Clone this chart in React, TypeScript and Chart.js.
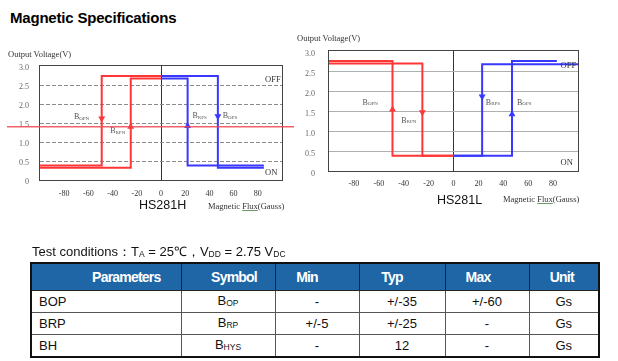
import React, { useEffect, useRef } from 'react';
import { Chart, registerables } from 'chart.js';

Chart.register(...registerables);

type Pt = { x: number; y: number };
type Arrow = { x: number; y: number; dir: 'up' | 'down' };
type SubLabel = { x: number; y: number; main: string; sub: string };
type StateLabel = { x: number; y: number; text: string };

// ---- shared axis ticks ----
const fluxTicks = [-80, -60, -40, -20, 0, 20, 40, 60, 80];
const voltTicks = [0, 0.5, 1, 1.5, 2, 2.5, 3];

// ---- HS281H (flux in Gauss, output in V) ----
const hRedOuter: Pt[] = [{ x: -100, y: 0.38 }, { x: -49, y: 0.38 }, { x: -49, y: 2.74 }, { x: 0, y: 2.74 }];
const hRedInner: Pt[] = [{ x: -100, y: 0.32 }, { x: -25, y: 0.32 }, { x: -25, y: 2.67 }, { x: 0, y: 2.67 }];
const hBlueOuter: Pt[] = [{ x: 0, y: 2.74 }, { x: 47, y: 2.74 }, { x: 47, y: 0.32 }, { x: 85, y: 0.32 }];
const hBlueInner: Pt[] = [{ x: 0, y: 2.67 }, { x: 22, y: 2.67 }, { x: 22, y: 0.38 }, { x: 85, y: 0.38 }];
const hRedArrows: Arrow[] = [{ x: -49, y: 1.62, dir: 'down' }, { x: -25, y: 1.4, dir: 'up' }];
const hBlueArrows: Arrow[] = [{ x: 22, y: 1.42, dir: 'up' }, { x: 47, y: 1.68, dir: 'down' }];
const hLabels: SubLabel[] = [
  { x: -72, y: 1.66, main: 'B', sub: 'OPN' },
  { x: -42, y: 1.29, main: 'B', sub: 'RPN' },
  { x: 26, y: 1.68, main: 'B', sub: 'RPS' },
  { x: 51, y: 1.68, main: 'B', sub: 'OPS' },
];
const hStates: StateLabel[] = [{ x: 86, y: 2.63, text: 'OFF' }, { x: 86, y: 0.18, text: 'ON' }];
const hMarkerVolt = 1.4;

// ---- HS281L ----
const lRedOuter: Pt[] = [{ x: -100, y: 2.75 }, { x: -49, y: 2.75 }, { x: -49, y: 0.38 }, { x: 0, y: 0.38 }];
const lRedInner: Pt[] = [{ x: -100, y: 2.69 }, { x: -25, y: 2.69 }, { x: -25, y: 0.38 }, { x: 0, y: 0.38 }];
const lBlueOuter: Pt[] = [{ x: 0, y: 0.38 }, { x: 47, y: 0.38 }, { x: 47, y: 2.75 }, { x: 83, y: 2.75 }];
const lBlueInner: Pt[] = [{ x: 0, y: 0.38 }, { x: 23, y: 0.38 }, { x: 23, y: 2.67 }, { x: 100, y: 2.67 }];
const lRedArrows: Arrow[] = [{ x: -49, y: 1.54, dir: 'up' }, { x: -25, y: 1.47, dir: 'down' }];
const lBlueArrows: Arrow[] = [{ x: 23, y: 1.86, dir: 'down' }, { x: 47, y: 1.42, dir: 'up' }];
const lLabels: SubLabel[] = [
  { x: -73, y: 1.71, main: 'B', sub: 'OPN' },
  { x: -42, y: 1.26, main: 'B', sub: 'RPN' },
  { x: 26, y: 1.71, main: 'B', sub: 'RPS' },
  { x: 51, y: 1.71, main: 'B', sub: 'OPS' },
];
const lStates: StateLabel[] = [{ x: 86, y: 2.63, text: 'OFF' }, { x: 86, y: 0.2, text: 'ON' }];

// ---- table ----
const tableHeaders = ['Parameters', 'Symbol', 'Min', 'Typ', 'Max', 'Unit'];
const rowParams = ['BOP', 'BRP', 'BH'];
const rowSymbolSubs = ['OP', 'RP', 'HYS'];
const rowMin = ['-', '+/-5', '-'];
const rowTyp = ['+/-35', '+/-25', '12'];
const rowMax = ['+/-60', '-', '-'];
const rowUnit = ['Gs', 'Gs', 'Gs'];

const SERIF = '"Liberation Serif", "Times New Roman", Times, serif';
const SANS = '"Liberation Sans", Arial, Helvetica, sans-serif';
const RED = '#ff3636';
const BLUE = '#3838ff';
const HEADER_BG = '#1f66a6';

interface HysProps {
  left: number;
  top: number;
  width: number;
  height: number;
  pad: { top: number; right: number; bottom: number };
  yAxisWidth: number;
  xAxisHeight: number;
  yTickPad: number;
  xTickPad: number;
  yLabelOffset: number;
  gridColor: string;
  gridDash: number[];
  redOuter: Pt[];
  redInner: Pt[];
  blueOuter: Pt[];
  blueInner: Pt[];
  redArrows: Arrow[];
  blueArrows: Arrow[];
  labels: SubLabel[];
  states: StateLabel[];
  marker?: { volt: number; fromX: number; toX: number };
}

function HysChart(p: HysProps) {
  const ref = useRef<HTMLCanvasElement>(null);
  useEffect(() => {
    const canvas = ref.current;
    if (!canvas) return;
    const lineDs = (data: Pt[], color: string) => ({
      data,
      showLine: true,
      borderColor: color,
      backgroundColor: color,
      borderWidth: 2,
      pointRadius: 0,
      pointHoverRadius: 0,
      fill: false,
      tension: 0,
      borderJoinStyle: 'miter',
    });
    const arrowDs = (data: Arrow[], color: string) => ({
      data,
      showLine: false,
      pointStyle: 'triangle',
      pointRadius: 4,
      pointHoverRadius: 4,
      rotation: (c: any) => (c.raw && c.raw.dir === 'down' ? 180 : 0),
      backgroundColor: color,
      borderColor: color,
      borderWidth: 0,
    });
    const overlay = {
      id: 'hysOverlay',
      beforeDatasetsDraw(chart: any) {
        const { ctx, chartArea: a } = chart;
        ctx.save();
        ctx.strokeStyle = '#444';
        ctx.lineWidth = 1;
        const x0 = Math.round(a.left) - 0.5;
        const y0 = Math.round(a.top) - 0.5;
        const x1 = Math.round(a.right) + 0.5;
        const y1 = Math.round(a.bottom) + 0.5;
        ctx.strokeRect(x0, y0, x1 - x0, y1 - y0);
        ctx.restore();
      },
      afterDatasetsDraw(chart: any) {
        const { ctx } = chart;
        const xs = chart.scales.x;
        const ys = chart.scales.y;
        ctx.save();
        ctx.textAlign = 'left';
        ctx.textBaseline = 'middle';
        ctx.fillStyle = '#555';
        for (const l of p.labels) {
          const x = xs.getPixelForValue(l.x);
          const y = ys.getPixelForValue(l.y);
          ctx.font = `8px ${SERIF}`;
          ctx.fillText(l.main, x, y);
          const w = ctx.measureText(l.main).width;
          ctx.font = `5px ${SERIF}`;
          ctx.fillText(l.sub, x + w, y + 1.5);
        }
        ctx.fillStyle = '#333';
        ctx.font = `8.5px ${SERIF}`;
        for (const s of p.states) {
          ctx.fillText(s.text, xs.getPixelForValue(s.x), ys.getPixelForValue(s.y));
        }
        if (p.marker) {
          const y = ys.getPixelForValue(p.marker.volt);
          ctx.strokeStyle = 'rgba(240,70,80,0.85)';
          ctx.lineWidth = 1.5;
          ctx.beginPath();
          ctx.moveTo(p.marker.fromX, y);
          ctx.lineTo(p.marker.toX, y);
          ctx.stroke();
        }
        ctx.restore();
      },
    };
    const chart = new Chart(canvas, {
      type: 'scatter',
      data: {
        datasets: [
          arrowDs(p.redArrows, RED),
          arrowDs(p.blueArrows, BLUE),
          lineDs(p.redOuter, RED),
          lineDs(p.redInner, RED),
          lineDs(p.blueOuter, BLUE),
          lineDs(p.blueInner, BLUE),
        ] as any,
      },
      options: {
        animation: false,
        responsive: false,
        maintainAspectRatio: false,
        events: [],
        layout: { padding: { left: 0, top: p.pad.top, right: p.pad.right, bottom: p.pad.bottom } },
        plugins: { legend: { display: false }, tooltip: { enabled: false }, title: { display: false } },
        scales: {
          x: {
            type: 'linear',
            min: -100,
            max: 100,
            afterBuildTicks: (s: any) => {
              s.ticks = fluxTicks.map((v) => ({ value: v }));
            },
            afterFit: (s: any) => {
              s.height = p.xAxisHeight;
            },
            ticks: {
              autoSkip: false,
              maxRotation: 0,
              padding: p.xTickPad,
              color: '#333',
              font: { family: SERIF, size: 8 },
              callback: (v: any) => String(v),
            },
            grid: {
              drawTicks: false,
              lineWidth: 1,
              color: (c: any) => (c.tick && c.tick.value === 0 ? '#333' : 'rgba(0,0,0,0)'),
            },
            border: { display: false },
          },
          y: {
            type: 'linear',
            min: 0,
            max: 3,
            afterBuildTicks: (s: any) => {
              s.ticks = voltTicks.map((v) => ({ value: v }));
            },
            afterFit: (s: any) => {
              s.width = p.yAxisWidth;
            },
            ticks: {
              autoSkip: false,
              padding: p.yTickPad,
              labelOffset: p.yLabelOffset,
              color: '#666',
              font: { family: SERIF, size: 8 },
              callback: (v: any) => (Number(v) === 0 ? '0' : Number(v).toFixed(1)),
            },
            grid: {
              drawTicks: false,
              lineWidth: 1,
              color: (c: any) =>
                c.tick && (c.tick.value === 0 || c.tick.value === 3) ? 'rgba(0,0,0,0)' : p.gridColor,
            },
            border: { display: false, dash: p.gridDash },
          },
        },
      } as any,
      plugins: [overlay],
    });
    return () => chart.destroy();
  }, []);
  return (
    <canvas
      ref={ref}
      width={p.width}
      height={p.height}
      style={{ position: 'absolute', left: p.left, top: p.top, width: p.width, height: p.height, display: 'block' }}
    />
  );
}

const axisTitle: React.CSSProperties = {
  position: 'absolute',
  fontFamily: SERIF,
  fontSize: 8.5,
  lineHeight: '10px',
  color: '#333',
  whiteSpace: 'nowrap',
};
const modelTitle: React.CSSProperties = {
  position: 'absolute',
  fontFamily: SANS,
  fontSize: 12.5,
  lineHeight: '15px',
  color: '#111',
  whiteSpace: 'nowrap',
};

function FluxTitle({ left, top }: { left: number; top: number }) {
  return (
    <div style={{ ...axisTitle, left, top }}>
      Magnetic{' '}
      <span style={{ textDecoration: 'underline', textDecorationColor: '#6a9a6a' }}>Flux</span>(Gauss)
    </div>
  );
}

const colWidths = [150, 94, 84, 86, 84, 70];
const headerShift = [20, 6, -10, -10, -9, -2];
const sub: React.CSSProperties = { fontSize: 8.5, position: 'relative', top: 1 };

export default function App() {
  const bodyCell: React.CSSProperties = {
    border: '1px solid #555',
    fontSize: 13,
    lineHeight: '15px',
    color: '#111',
    textAlign: 'center',
    padding: 0,
    height: 21,
  };
  return (
    <div
      style={{
        position: 'fixed',
        left: 0,
        top: 0,
        width: 618,
        height: 361,
        background: '#fff',
        overflow: 'hidden',
      }}
    >
      <div
        style={{
          position: 'absolute',
          left: 10,
          top: 8,
          fontFamily: SANS,
          fontWeight: 'bold',
          fontSize: 15,
          letterSpacing: -0.2,
          lineHeight: '20px',
          color: '#000',
          whiteSpace: 'nowrap',
        }}
      >
        Magnetic Specifications
      </div>

      <HysChart
        left={0}
        top={40}
        width={300}
        height={180}
        pad={{ top: 26, right: 18, bottom: 20 }}
        yAxisWidth={40}
        xAxisHeight={20}
        yTickPad={11}
        xTickPad={9}
        yLabelOffset={2}
        gridColor="#8a8a8a"
        gridDash={[4, 2]}
        redOuter={hRedOuter}
        redInner={hRedInner}
        blueOuter={hBlueOuter}
        blueInner={hBlueInner}
        redArrows={hRedArrows}
        blueArrows={hBlueArrows}
        labels={hLabels}
        states={hStates}
        marker={{ volt: hMarkerVolt, fromX: 7, toX: 294 }}
      />
      <div style={{ ...axisTitle, left: 8, top: 49 }}>Output Voltage(V)</div>
      <div style={{ ...modelTitle, left: 139, top: 198 }}>HS281H</div>
      <FluxTitle left={208} top={201} />

      <HysChart
        left={290}
        top={25}
        width={318}
        height={190}
        pad={{ top: 26, right: 30, bottom: 24 }}
        yAxisWidth={39}
        xAxisHeight={20}
        yTickPad={14}
        xTickPad={8}
        yLabelOffset={2.5}
        gridColor="#b0b0b0"
        gridDash={[]}
        redOuter={lRedOuter}
        redInner={lRedInner}
        blueOuter={lBlueOuter}
        blueInner={lBlueInner}
        redArrows={lRedArrows}
        blueArrows={lBlueArrows}
        labels={lLabels}
        states={lStates}
      />
      <div style={{ ...axisTitle, left: 297, top: 33 }}>Output Voltage(V)</div>
      <div style={{ ...modelTitle, left: 437, top: 193 }}>HS281L</div>
      <FluxTitle left={503} top={194} />

      <div
        style={{
          position: 'absolute',
          left: 32,
          top: 244,
          fontFamily: SANS,
          fontSize: 13,
          lineHeight: '16px',
          color: '#111',
          whiteSpace: 'nowrap',
        }}
      >
        Test conditions：T<span style={sub}>A</span> = 25℃，V<span style={sub}>DD</span> = 2.75 V
        <span style={sub}>DC</span>
      </div>

      <table
        style={{
          position: 'absolute',
          left: 30,
          top: 262,
          width: 568,
          borderCollapse: 'collapse',
          tableLayout: 'fixed',
          fontFamily: SANS,
          border: '2px solid #111',
        }}
      >
        <colgroup>
          {colWidths.map((w, i) => (
            <col key={i} style={{ width: w }} />
          ))}
        </colgroup>
        <thead>
          <tr style={{ height: 27 }}>
            {tableHeaders.map((h, i) => (
              <th
                key={h}
                style={{
                  background: HEADER_BG,
                  color: '#fff',
                  fontWeight: 'bold',
                  fontSize: 14,
                  lineHeight: '16px',
                  letterSpacing: -0.8,
                  border: '1px solid #222',
                  padding: 0,
                  paddingLeft: headerShift[i] > 0 ? 2 * headerShift[i] : 0,
                  paddingRight: headerShift[i] < 0 ? -2 * headerShift[i] : 0,
                  textAlign: 'center',
                  height: 26,
                }}
              >
                {h}
              </th>
            ))}
          </tr>
        </thead>
        <tbody>
          {rowParams.map((param, r) => (
            <tr key={param} style={{ height: 22 }}>
              <td style={{ ...bodyCell, textAlign: 'left', paddingLeft: 7 }}>{param}</td>
              <td style={bodyCell}>
                B<span style={{ fontSize: 8.5, position: 'relative', top: 1 }}>{rowSymbolSubs[r]}</span>
              </td>
              <td style={bodyCell}>{rowMin[r]}</td>
              <td style={bodyCell}>{rowTyp[r]}</td>
              <td style={bodyCell}>{rowMax[r]}</td>
              <td style={bodyCell}>{rowUnit[r]}</td>
            </tr>
          ))}
        </tbody>
      </table>
    </div>
  );
}
